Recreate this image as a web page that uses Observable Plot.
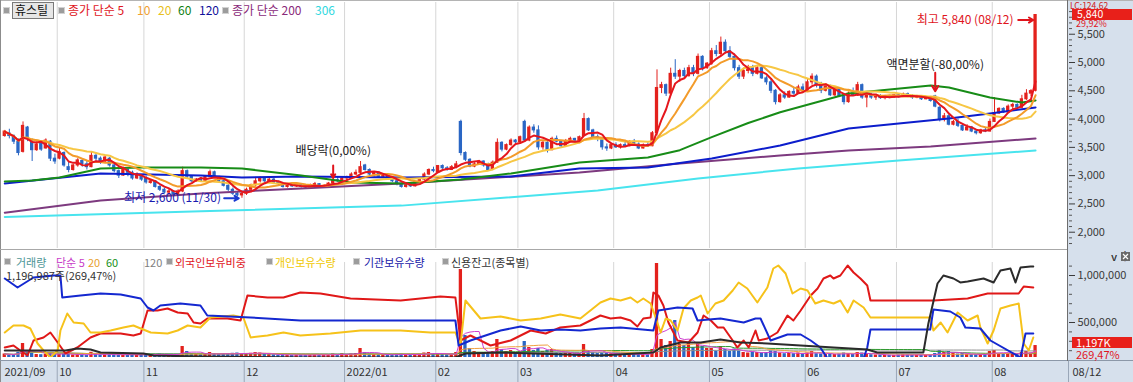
<!DOCTYPE html>
<html><head><meta charset="utf-8">
<script src="https://cdn.jsdelivr.net/npm/d3@7"></script>
<script src="https://cdn.jsdelivr.net/npm/@observablehq/plot@0.6"></script>
<style>
html,body{margin:0;padding:0;background:#fff;}
#root{position:relative;width:1133px;height:382px;overflow:hidden;font-family:"Noto Sans CJK KR",sans-serif;font-size:11px;background:#fff;}
#root div{position:absolute;white-space:nowrap;}
svg{overflow:visible;}
</style></head><body><div id="root"></div><script>
// ---------------- DATA ----------------
const monthLabels = ["2021/09","10","11","12","2022/01","02","03","04","05","06","07","08"];
const lastDateLabel = "08/12";
// daily candles [open, high, low, close] per month
const candlesSep = [[3700,3800,3680,3780],[3750,3820,3650,3700],[3700,3720,3550,3600],[3600,3650,3350,3400],[3420,3950,3400,3880],[3850,3870,3600,3650],[3600,3650,3250,3450],[3450,3600,3430,3550],[3560,3600,3430,3460],[3480,3650,3470,3620],[3600,3620,3250,3300],[3300,3380,3200,3250]];
const candlesOct = [[3300,3480,3280,3420],[3400,3420,3150,3180],[3150,3250,3050,3100],[3100,3200,3080,3180],[3180,3300,3150,3270],[3260,3280,3150,3200],[3200,3250,3100,3150],[3150,3420,3140,3350],[3350,3400,3250,3300],[3300,3330,3200,3250],[3250,3350,3220,3320],[3300,3320,3150,3180],[3180,3200,3050,3080],[3080,3100,2950,3000],[3000,3150,2990,3100],[3100,3120,2980,3050],[3050,3080,2920,2950],[2950,3050,2930,3000],[3000,3020,2900,2930]];
const candlesNov = [[2950,2990,2850,2880],[2870,2920,2850,2900],[2900,2910,2780,2800],[2800,2820,2720,2750],[2750,2780,2680,2700],[2700,2760,2650,2720],[2720,2730,2640,2660],[2660,2750,2630,2720],[2720,3150,2700,3080],[3080,3100,2950,2980],[2980,3000,2880,2900],[2900,2950,2880,2930],[2930,2960,2880,2900],[2900,3000,2890,2980],[2980,3100,2970,3060],[3060,3080,2950,2970],[2970,2990,2880,2900],[2900,2920,2800,2820],[2820,2840,2720,2750],[2750,2780,2650,2680],[2680,2720,2620,2650],[2650,2700,2600,2680]];
const candlesDec = [[2680,2780,2650,2750],[2750,2850,2700,2830],[2830,2950,2800,2900],[2900,2980,2870,2950],[2950,2970,2880,2900],[2900,2960,2860,2930],[2930,2950,2850,2880],[2880,2900,2820,2850],[2850,2880,2780,2800],[2800,2850,2780,2830],[2830,2860,2790,2810],[2810,2850,2790,2840],[2840,2860,2780,2800],[2800,2830,2760,2790],[2790,2850,2780,2830],[2830,2880,2800,2850],[2850,2860,2790,2810],[2810,2840,2780,2820],[2820,2880,2800,2860],[2860,2950,2850,2920],[2920,2980,2880,2900],[2900,2970,2890,2950]];
const candlesJan = [[2950,2990,2900,2970],[2970,3050,2950,3020],[3020,3100,3000,3050],[3050,3250,3030,3150],[3180,3200,3080,3100],[3100,3120,3000,3020],[3020,3060,2980,3050],[3050,3070,2960,2980],[2980,3020,2950,3000],[3000,3010,2930,2950],[2950,2970,2880,2900],[2900,2920,2820,2850],[2850,2870,2780,2800],[2800,2850,2780,2830],[2830,2860,2790,2810],[2810,2900,2800,2880],[2880,2950,2870,2930],[2930,3050,2920,3020],[3020,3120,3000,3100],[3100,3150,3050,3080]];
const candlesFeb = [[3050,3180,3040,3170],[3170,3190,3110,3130],[3130,3160,3080,3100],[3100,3180,3090,3150],[3150,3250,3120,3200],[3950,3980,3350,3400],[3400,3420,3250,3280],[3280,3300,3140,3160],[3160,3230,3140,3200],[3200,3270,3180,3250],[3250,3260,3150,3180],[3180,3220,3080,3100],[3100,3260,3090,3230],[3230,3650,3220,3580],[3580,3600,3420,3460],[3460,3560,3440,3540],[3540,3650,3520,3620],[3620,3640,3560,3590]];
const candlesMar = [[3590,3700,3560,3680],[3950,3980,3600,3620],[3620,3880,3600,3850],[3850,3900,3750,3800],[3800,3880,3450,3500],[3500,3620,3450,3580],[3580,3600,3400,3450],[3450,3680,3440,3650],[3650,3700,3580,3600],[3600,3620,3480,3520],[3520,3640,3500,3600],[3600,3680,3580,3650],[3650,3660,3580,3620],[3620,3700,3600,3680],[3700,4100,3690,4000],[4000,4020,3780,3800],[3800,3820,3650,3680],[3680,3720,3600,3650],[3650,3660,3450,3500],[3500,3560,3430,3480],[3480,3560,3460,3540]];
const candlesApr = [[3540,3580,3480,3500],[3500,3560,3470,3540],[3540,3600,3500,3520],[3520,3620,3510,3600],[3600,3640,3520,3550],[3550,3580,3460,3480],[3480,3560,3470,3540],[3540,3580,3500,3520],[3520,3780,3510,3750],[3750,4870,3700,4550],[4550,4650,4450,4600],[4600,4620,4400,4450],[4450,4900,4400,4800],[4800,5050,4700,4750],[4750,4880,4650,4850],[4850,4900,4700,4760],[4760,4950,4740,4900],[4900,4950,4750,4800],[4800,5150,4780,5100],[5100,5120,4850,4900],[4900,5000,4880,4980]];
const candlesMay = [[4980,5250,4950,5200],[5200,5300,5100,5150],[5150,5450,5120,5350],[5350,5400,5150,5200],[5200,5280,5050,5100],[5100,5150,4850,4900],[4900,4950,4700,4750],[4750,4900,4700,4850],[4850,4950,4800,4900],[4900,4950,4750,4800],[4800,4950,4780,4900],[4900,4920,4700,4720],[4720,4750,4600,4650],[4650,4700,4450,4500],[4500,4520,4250,4300],[4300,4450,4280,4420],[4420,4480,4350,4380],[4380,4500,4370,4480],[4480,4550,4420,4450],[4450,4600,4440,4560],[4560,4620,4480,4500]];
const candlesJun = [[4500,4700,4480,4650],[4650,4800,4600,4750],[4750,4780,4550,4600],[4600,4650,4450,4500],[4500,4620,4480,4580],[4580,4600,4400,4420],[4420,4560,4400,4520],[4520,4550,4380,4400],[4400,4450,4250,4300],[4300,4480,4280,4450],[4450,4550,4400,4420],[4420,4650,4400,4600],[4600,4620,4350,4380],[4380,4450,4200,4420],[4420,4450,4350,4380],[4380,4420,4330,4400],[4400,4430,4350,4370],[4370,4420,4340,4400],[4400,4420,4360,4380],[4380,4430,4370,4420]];
const candlesJul = [[4420,4450,4370,4400],[4400,4460,4380,4440],[4440,4460,4380,4400],[4400,4430,4350,4380],[4380,4420,4360,4400],[4400,4410,4330,4350],[4350,4400,4340,4380],[4380,4400,4300,4320],[4400,4420,4200,4220],[4200,4220,3950,4000],[4000,4100,3950,4050],[4050,4080,3880,3900],[3900,3980,3880,3950],[3950,4000,3850,3880],[3880,3920,3780,3800],[3800,3900,3790,3850],[3850,3870,3760,3780],[3780,3800,3720,3750],[3750,3820,3730,3800],[3800,3850,3760,3780],[3780,4000,3770,3950]];
const candlesAug = [[3950,4380,3940,4100],[4100,4200,4080,4180],[4180,4200,4100,4120],[4120,4250,4110,4220],[4220,4280,4150,4250],[4250,4270,4180,4200],[4200,4420,4190,4350],[4350,4520,4330,4450],[4450,4520,4400,4495],[4500,5840,4480,5840]];
// daily volume, thousand shares
const volSep = [350,300,280,520,1400,600,450,300,280,320,400,350];
const volOct = [300,420,300,250,280,260,240,520,300,250,260,280,320,300,260,240,280,250,300];
const volNov = [320,280,300,350,300,260,280,300,1100,600,400,300,280,350,500,350,300,320,380,420,450,400];
const volDec = [380,420,500,450,300,280,260,250,300,240,220,230,250,240,260,280,250,240,260,350,300,380];
const volJan = [300,350,400,900,500,350,300,280,260,250,300,320,350,280,260,300,320,450,500,400];
const volFeb = [350,300,280,320,500,8800,2200,900,600,500,450,400,600,1800,800,600,700,500];
const volMar = [600,1600,1000,700,900,600,700,800,500,400,450,400,350,400,1300,700,500,400,450,400,380];
const volApr = [350,300,280,320,300,350,300,280,800,9400,1800,1200,1600,3700,1300,1200,1400,1000,1400,1100,900];
const volMay = [900,650,1100,800,600,850,650,500,450,550,500,450,500,650,600,450,380,400,380,450,380];
const volJun = [450,600,380,350,300,380,300,350,450,380,300,500,450,380,280,250,250,230,220,210];
const volJul = [250,280,260,240,230,250,240,260,400,700,500,600,400,350,400,300,300,280,300,320,600];
const volAug = [700,400,350,400,380,350,500,600,444,1196.987];
// long moving averages: [trading-day index, price]
const ma60Pts = [[0,2897],[6,2915],[12,2968],[21,3127],[30,3145],[43,3145],[52,3127],[65,3003],[76,2879],[87,2862],[100,2932],[111,3039],[126,3233],[141,3321],[148,3450],[155,3680],[163,3930],[170,4120],[185,4453],[203,4594],[207,4559],[216,4382],[223,4293],[226,4329]];
const ma120Pts = [[0,2862],[21,3039],[43,3003],[52,2968],[65,2985],[87,2968],[111,2985],[126,3127],[141,3145],[155,3304],[170,3533],[185,3834],[207,4011],[216,4099],[226,4205]];
const ma200Pts = [[0,2346],[21,2561],[43,2685],[65,2773],[87,2862],[126,3056],[148,3215],[170,3357],[185,3445],[203,3516],[226,3657]];
const ma306Pts = [[0,2270],[43,2370],[87,2470],[130,2738],[152,2950],[174,3127],[196,3268],[226,3445]];
// lower panel series: [trading-day index, value]
const foreignPct = [[0,0.26],[1.9,0.30],[3.4,0.20],[5,0.10],[6.3,0.40],[8.5,0.46],[10,0.56],[11.6,0.36],[13.3,0.14],[15.9,0.26],[18.8,0.46],[21,0.54],[25.4,0.54],[28.2,0.50],[29.8,0.54],[31.3,1.00],[33.5,1.00],[35.7,1.04],[37.9,0.96],[40.1,0.94],[41.4,0.76],[42.9,0.74],[44.4,0.84],[48.8,0.84],[51.7,0.80],[53.2,1.30],[57.6,1.26],[61.1,1.26],[64.8,1.36],[69.2,1.34],[75.8,1.24],[86.8,1.20],[95.5,1.28],[98.8,1.26],[99.9,0.40],[102.1,0.50],[106.5,0.30],[110.9,0.40],[115.3,0.60],[118.6,0.54],[121.8,0.66],[126.2,0.70],[130.6,0.90],[132.8,0.84],[135,0.86],[137.2,0.80],[138.7,0.68],[140,0.84],[141.6,0.86],[142.2,1.36],[143.3,1.30],[144.4,1.10],[145.5,0.76],[147.5,0.40],[149.9,0.36],[151.9,0.56],[153.2,0.90],[154.8,0.80],[156.3,0.66],[157.6,0.66],[159.6,0.40],[160.6,0.26],[162,0.40],[163.1,0.26],[164.6,0.60],[165.3,0.40],[167.2,0.44],[169.4,0.56],[171.6,0.90],[172.9,0.80],[174.5,1.00],[176.7,1.30],[178.2,1.44],[179.5,1.64],[181,1.70],[181.7,1.64],[183.2,1.70],[184.8,1.90],[186.1,1.76],[187.6,1.64],[189.1,1.50],[189.8,1.20],[203.6,1.20],[211.1,1.24],[215.5,1.34],[222.3,1.34],[223.4,1.48],[225.5,1.46]];
const individualQty = [[0,25560],[1.9,25700],[4.1,25700],[5.6,25640],[7.2,25340],[8.5,25200],[10,25060],[11.6,25200],[12.2,25600],[13.7,25940],[15.1,25760],[17.3,25740],[18.8,25560],[21,25560],[23.2,25600],[26,25660],[28.2,25700],[29.8,25640],[32,25560],[35.7,25540],[37.9,25600],[40.1,25700],[42.9,25660],[45.1,25860],[50.1,25900],[52.3,25860],[53.9,25460],[57.6,25500],[61.1,25560],[64.8,25500],[71.4,25540],[78,25600],[86.8,25600],[93.3,25560],[98.8,25560],[99.9,25300],[101,26200],[104.3,25840],[108.7,25880],[113.1,25800],[117.5,25840],[121.8,25920],[126.2,25840],[130.6,26160],[132.8,26240],[135,26200],[137.2,26260],[138.7,26160],[140,26240],[141.6,26140],[142.7,25860],[143.8,25560],[144.9,25840],[146,25800],[147.5,25600],[148.8,26040],[150.4,26200],[151.9,26260],[152.6,26300],[154.1,25940],[155.8,26140],[157.6,26200],[159.6,26400],[160.9,26560],[162.8,26440],[165,26160],[167.2,26460],[168.5,26840],[169.6,26900],[171.2,26740],[172.7,26340],[174.5,26440],[176,26400],[177.7,26140],[179.5,26200],[181.7,26140],[183.2,26200],[184.8,25960],[186.1,26200],[188.3,26060],[189.8,25860],[202.9,25860],[203.6,25600],[205.2,25760],[206.7,25560],[208.9,25960],[211.1,25800],[213.3,25900],[213.9,25660],[215.5,25340],[216.8,25600],[218.3,26040],[220.5,26100],[222.3,26140],[223.4,25340],[224.5,25200],[225.5,25460]];
const institutionQty = [[0,820],[2.8,730],[6.3,830],[10.7,850],[12.2,850],[12.6,630],[16.6,650],[21,670],[25.4,660],[29.8,620],[31.3,530],[32.6,500],[34.1,550],[38.5,570],[42.9,550],[44.4,450],[53.9,430],[64.8,400],[75.8,400],[86.8,400],[98.8,400],[99.5,150],[102.1,200],[108.7,300],[113.1,340],[117.5,300],[121.8,310],[126.2,300],[130.6,320],[135,330],[142.2,300],[143.3,500],[147.5,530],[150.8,520],[151.9,400],[156.9,420],[162,380],[164.6,420],[165.7,420],[167.9,200],[171.6,260],[174.5,260],[176.7,200],[178.8,130],[180.4,20],[183.9,20],[188.3,20],[189.1,130],[189.8,310],[202.9,310],[203.6,510],[207.3,490],[209.5,430],[210.6,330],[213.9,320],[216.1,200],[222.7,30],[223.8,270],[225.5,270]];
const creditQty = [[0,202000],[13.3,202000],[15.9,223000],[18.8,213000],[21,181000],[30.4,170000],[32.6,149000],[42.9,138000],[64.8,128000],[98.8,128000],[101,170000],[108.7,180000],[130.6,149000],[142.2,181000],[143.8,234000],[148.2,287000],[152.6,287000],[156.9,319000],[161.3,287000],[167.2,277000],[174.5,255000],[181.7,234000],[189.1,213000],[191.3,181000],[201.4,181000],[202.5,489000],[204.5,915000],[205.8,1000000],[208,968000],[209.5,926000],[211.1,936000],[214.6,968000],[216.8,926000],[218.3,1053000],[220.5,1074000],[221.6,926000],[222.7,1085000],[224.9,1096000],[225.5,1096000]];
const priceTicks = [2000,2500,3000,3500,4000,4500,5000,5500];
const lowerTicks = [500000,1000000];

// ---------------- BUILD ----------------
const W = 1133, PR = 1068, ML = 2;
const SLOT = 4.561;
const xDom = [0, (PR - ML) / SLOT];
const months = [candlesSep,candlesOct,candlesNov,candlesDec,candlesJan,candlesFeb,candlesMar,candlesApr,candlesMay,candlesJun,candlesJul,candlesAug];
const vols = [volSep,volOct,volNov,volDec,volJan,volFeb,volMar,volApr,volMay,volJun,volJul,volAug].flat();
const monthStarts = [0, ...d3.cumsum(months.map(m => m.length))].slice(0, months.length);
const bars = months.flat().map(([o,h,l,c], i) => ({i, u: i + 0.5, o, h, l, c, v: vols[i]}));
bars.forEach((b, i) => { b.vup = i === 0 ? true : b.c >= bars[i-1].c; });
const closes = bars.map(b => b.c);
const sma = (arr, n) => arr.map((_, i) => d3.mean(arr.slice(Math.max(0, i - n + 1), i + 1)));
const maLine = n => sma(closes, n).map((v, i) => ({u: i + 0.5, v}));
const pts = a => a.map(([i, v]) => ({u: i + 0.5, v}));
const vmaLine = n => sma(vols, n).map((v, i) => ({u: i + 0.5, v}));

const UP = "#e3211c", DOWN = "#2a66c4";
const col = {ma5:"#e5161d", ma10:"#f39b2a", ma20:"#f7c744", ma60:"#178c17", ma120:"#0c1dcc", ma200:"#7d3a7f", ma306:"#48e4ee"};
const fontFam = "'Noto Sans CJK KR', sans-serif";
const root = document.getElementById("root");
function box(left, tp, w, h, css) { const d = document.createElement("div"); Object.assign(d.style, {left: left+"px", top: tp+"px", width: w+"px", height: h+"px"}, css || {}); root.appendChild(d); return d; }
function label(text, left, tp, color, size, css) { const d = document.createElement("div"); d.textContent = text; Object.assign(d.style, {left: left+"px", top: tp+"px", color, fontSize: (size||11)+"px", lineHeight: "13px", fontFamily: fontFam}, css || {}); root.appendChild(d); return d; }
function sq(left, tp) { box(left, tp, 5, 5, {background: "#9c9c9c", border: "1px solid #d2d2d2"}); }
function mount(el, left, tp) { const w = document.createElement("div"); w.style.left = left + "px"; w.style.top = tp + "px"; w.appendChild(el); root.appendChild(w); return el; }

// backgrounds
box(PR, 0, W - PR, 361, {background: "#d6e0ec"});
box(0, 361, W, 21, {background: "#d6e0ec"});

const baseStyle = {fontFamily: fontFam, fontSize: "11px", background: "transparent", color: "#3a3a3a", overflow: "visible"};
const gridMark = () => Plot.ruleX(monthStarts.slice(1), {stroke: "#d6d6d6", strokeWidth: 1});

// ---------- top panel ----------
const pricePlot = Plot.plot({
  width: W, height: 250, marginLeft: ML, marginRight: W - PR, marginTop: 2, marginBottom: 2,
  style: baseStyle,
  x: {type: "linear", domain: xDom, axis: null},
  y: {type: "linear", domain: [1712, 6061], axis: null},
  marks: [
    gridMark(),
    Plot.ruleX(bars, {x: "u", y1: "l", y2: "h", stroke: d => d.c >= d.o ? UP : DOWN, strokeWidth: 1}),
    Plot.rect(bars, {x1: d => d.u - 0.36, x2: d => d.u + 0.36, y1: "o", y2: "c", fill: d => d.c >= d.o ? UP : DOWN, insetTop: -0.5, insetBottom: -0.5}),
    Plot.line(pts(ma306Pts), {x: "u", y: "v", stroke: col.ma306, strokeWidth: 2}),
    Plot.line(pts(ma200Pts), {x: "u", y: "v", stroke: col.ma200, strokeWidth: 2}),
    Plot.line(pts(ma120Pts), {x: "u", y: "v", stroke: col.ma120, strokeWidth: 2}),
    Plot.line(pts(ma60Pts), {x: "u", y: "v", stroke: col.ma60, strokeWidth: 2}),
    Plot.line(maLine(20), {x: "u", y: "v", stroke: col.ma20, strokeWidth: 2}),
    Plot.line(maLine(10), {x: "u", y: "v", stroke: col.ma10, strokeWidth: 2}),
    Plot.line(maLine(5), {x: "u", y: "v", stroke: col.ma5, strokeWidth: 2}),
    // annotations
    Plot.text([bars[226]], {x: "u", y: "h", text: () => "최고 5,840 (08/12)", dx: -22, dy: 5, textAnchor: "end", fill: "#e0141c", fontSize: 12}),
    Plot.arrow([bars[226]], {x1: d => d.u - 3.8, x2: d => d.u - 0.5, y1: "h", y2: "h", dy: 5, stroke: "#e0141c", strokeWidth: 2, headLength: 7}),
    Plot.text([bars[52]], {x: "u", y: "l", text: () => "최저 2,600 (11/30)", dx: -21, textAnchor: "end", fill: "#1a1ab0", fontSize: 12}),
    Plot.arrow([bars[52]], {x1: d => d.u - 3.9, x2: d => d.u - 0.7, y1: "l", y2: "l", stroke: "#1a3ad0", strokeWidth: 2, headLength: 6}),
    Plot.text([bars[72]], {x: "u", y: "h", text: () => "배당락(0,00%)", dy: -27, fill: "#222", fontSize: 12}),
    Plot.arrow([bars[72]], {x: "u", y1: d => d.h + 230, y2: d => d.h + 10, stroke: "#e0141c", strokeWidth: 2, headLength: 6}),
    Plot.text([bars[204]], {x: "u", y: "h", text: () => "액면분할(-80,00%)", dy: -30, fill: "#222", fontSize: 12}),
    Plot.arrow([bars[204]], {x: "u", y1: d => d.h + 400, y2: d => d.h + 70, stroke: "#e0141c", strokeWidth: 2, headLength: 6}),
    // right axis
    Plot.axisY({anchor: "right", ticks: d3.range(1800, 6001, 100).filter(t => t % 500 !== 0), tickSize: 3, tickFormat: () => "", color: "#555"}),
    Plot.axisY({anchor: "right", ticks: priceTicks, tickSize: 6, tickPadding: 3, tickFormat: d3.format(","), color: "#3a3a3a", fontSize: 11})
  ]
});
mount(pricePlot, 0, 0);
const yTop = pricePlot.scale("y");

// ---------- lower panel ----------
const LT = 250, LH = 111;
const lowerBase = {width: W, height: LH, marginLeft: ML, marginRight: W - PR, marginTop: 12, marginBottom: 4, style: baseStyle, x: {type: "linear", domain: xDom, axis: null}};
const volPlot = Plot.plot({...lowerBase,
  y: {type: "linear", domain: [0, 9500], axis: null},
  marks: [
    gridMark(),
    Plot.rect(bars, {x1: d => d.u - 0.36, x2: d => d.u + 0.36, y1: 0, y2: "v", fill: d => d.vup ? UP : DOWN, clip: true}),
    Plot.line(vmaLine(120), {x: "u", y: "v", stroke: "#909090", strokeWidth: 1}),
    Plot.line(vmaLine(60), {x: "u", y: "v", stroke: "#2e9a2e", strokeWidth: 1}),
    Plot.line(vmaLine(20), {x: "u", y: "v", stroke: "#f0a040", strokeWidth: 1}),
    Plot.line(vmaLine(5), {x: "u", y: "v", stroke: "#d040d0", strokeWidth: 1})
  ]});
mount(volPlot, 0, LT);
const lowerSeries = [
  [foreignPct, [0.06, 1.96], "#e01818"],
  [individualQty, [25060, 26960], "#f6c21a"],
  [institutionQty, [30, 980], "#1428d0"]
];
for (const [data, dom, color] of lowerSeries) {
  mount(Plot.plot({...lowerBase, y: {type: "linear", domain: dom, axis: null},
    marks: [Plot.line(pts(data), {x: "u", y: "v", stroke: color, strokeWidth: 2, clip: true})]}), 0, LT);
}
mount(Plot.plot({...lowerBase, y: {type: "linear", domain: [127660, 1138300], axis: null},
  marks: [
    Plot.line(pts(creditQty), {x: "u", y: "v", stroke: "#2b2b2b", strokeWidth: 2, clip: true}),
    Plot.axisY({anchor: "right", ticks: d3.range(200000, 1100001, 100000).filter(t => t % 500000 !== 0), tickSize: 3, tickFormat: () => "", color: "#555"}),
    Plot.axisY({anchor: "right", ticks: lowerTicks, tickSize: 6, tickPadding: 3, tickFormat: d3.format(","), color: "#3a3a3a", fontSize: 11})
  ]}), 0, LT);
const yVol = volPlot.scale("y");

// ---------- x axis row ----------
const xRow = Plot.plot({
  width: W, height: 21, marginLeft: ML, marginRight: 0, marginTop: 0, marginBottom: 0, style: baseStyle,
  x: {type: "linear", domain: [0, (W - ML) / SLOT], axis: null},
  y: {domain: [0, 1], axis: null},
  marks: [
    Plot.ruleX([...monthStarts.slice(1), xDom[1]], {stroke: "#9aa7b8"}),
    Plot.text(monthStarts.map((s, k) => ({s, t: monthLabels[k]})), {x: "s", y: 0.5, text: "t", dx: 2, textAnchor: "start", fill: "#333", fontSize: 11}),
    Plot.text([{s: xDom[1], t: lastDateLabel}], {x: "s", y: 0.5, text: "t", dx: 4, textAnchor: "start", fill: "#333", fontSize: 11})
  ]});
mount(xRow, 0, 361);

// ---------- borders ----------
box(0, 0, W, 1, {background: "#b4b4b4"});
box(0, 0, 1, 382, {background: "#8c8c8c"});
box(0, 249, PR, 1, {background: "#a8a8a8"});
box(0, 360, W, 1, {background: "#8c98a8"});
box(PR - 1, 0, 1, 361, {background: "#6e6e6e"});

// ---------- legends ----------
sq(3, 7);
box(12, 2, 40, 15, {background: "#e6e6e6", border: "1px solid #7a7a7a"});
label("휴스틸", 15, 3, "#111", 12);
sq(58, 7);
label("종가 단순 5", 68, 3, "#e0141c", 12);
label("10", 137, 3, "#f0a030", 12);
label("20", 158, 3, "#e8c020", 12);
label("60", 178, 3, "#108010", 12);
label("120", 199, 3, "#10109a", 12);
sq(222, 7);
label("종가 단순 200", 232, 3, "#8a2a7a", 12);
label("306", 315, 3, "#30d8e0", 12);

sq(4, 258);
label("거래량", 16, 256, "#4e9696", 11);
label("단순 5", 56, 256, "#c83cc8", 11);
label("20", 88, 256, "#e8a030", 11);
label("60", 106, 256, "#189018", 11);
label("120", 144, 256, "#808080", 11);
sq(166, 258);
label("외국인보유비중", 175, 256, "#e0141c", 11);
sq(266, 258);
label("개인보유수량", 275, 256, "#f0c800", 11);
sq(353, 258);
label("기관보유수량", 364, 256, "#1818a8", 11);
sq(442, 258);
label("신용잔고(종목별)", 451, 256, "#333", 11);
label("1,196,987주(269,47%)", 6, 269, "#333", 11);

// ---------- right side value tags ----------
const yHi = yTop.apply(5840);
label("LC:124.62", 1070, 0.5, "#d02020", 8.5, {lineHeight: "8.5px"});
box(1072, yHi - 5.5, 60, 10.5, {background: "#e8201a"});
label("5,840", 1077, yHi - 5.5, "#fff", 10.5, {lineHeight: "10.5px"});
label("29,92%", 1076, yHi + 5, "#e0141c", 9, {lineHeight: "8px", background: "#d6e0ec", paddingRight: "14px"});
const yV = LT + yVol.apply(1196.987);
box(1072, yV - 8, 60, 11, {background: "#e8201a"});
label("1,197K", 1076, yV - 8, "#fff", 11, {lineHeight: "11px"});
label("269,47%", 1076, yV + 3.5, "#e0141c", 11, {lineHeight: "11px"});
// small close icon (drawn, no text)
const icon = box(1121, 252, 9, 9, {background: "#6a6a6a"});
icon.innerHTML = '<svg width="9" height="9" style="position:absolute;left:0;top:0"><path d="M2,2L7,7M7,2L2,7" stroke="#fff" stroke-width="1.2"/></svg>';
</script></body></html>
